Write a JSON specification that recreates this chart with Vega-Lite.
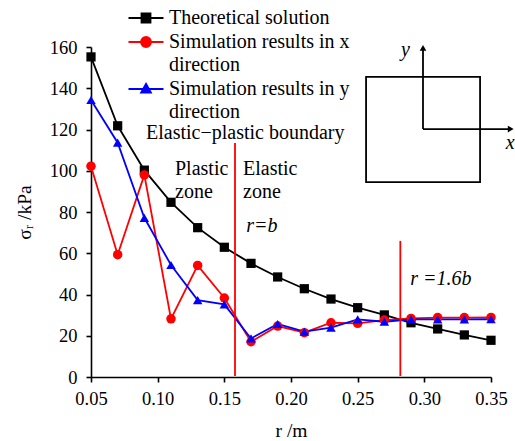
{
  "$schema": "https://vega.github.io/schema/vega-lite/v6.json",
  "width": 400,
  "height": 330,
  "autosize": {"type": "none"},
  "padding": {"left": 91, "top": 47, "right": 24, "bottom": 64},
  "background": "white",
  "config": {
    "view": {"stroke": null},
    "font": "Liberation Serif",
    "axis": {
      "grid": false,
      "domainColor": "black",
      "domainWidth": 1.6,
      "tickColor": "black",
      "tickWidth": 1.6,
      "labelFont": "Liberation Serif",
      "labelFontSize": 18.5,
      "labelColor": "black",
      "labelFlush": false,
      "titleFont": "Liberation Serif",
      "titleFontSize": 19.5,
      "titleFontWeight": "normal",
      "titleColor": "black"
    }
  },
  "datasets": {
    "series": [
      {"r": 0.05, "s": 155.2, "series": "Theoretical solution"},
      {"r": 0.07, "s": 121.8, "series": "Theoretical solution"},
      {"r": 0.09, "s": 100.3, "series": "Theoretical solution"},
      {"r": 0.11, "s": 84.7, "series": "Theoretical solution"},
      {"r": 0.13, "s": 72.4, "series": "Theoretical solution"},
      {"r": 0.15, "s": 62.9, "series": "Theoretical solution"},
      {"r": 0.17, "s": 55.1, "series": "Theoretical solution"},
      {"r": 0.19, "s": 48.5, "series": "Theoretical solution"},
      {"r": 0.21, "s": 42.8, "series": "Theoretical solution"},
      {"r": 0.23, "s": 37.8, "series": "Theoretical solution"},
      {"r": 0.25, "s": 33.6, "series": "Theoretical solution"},
      {"r": 0.27, "s": 30.1, "series": "Theoretical solution"},
      {"r": 0.29, "s": 26.3, "series": "Theoretical solution"},
      {"r": 0.31, "s": 23.3, "series": "Theoretical solution"},
      {"r": 0.33, "s": 20.4, "series": "Theoretical solution"},
      {"r": 0.35, "s": 17.8, "series": "Theoretical solution"},
      {"r": 0.05, "s": 102.2, "series": "Simulation results in x|direction"},
      {"r": 0.07, "s": 59.3, "series": "Simulation results in x|direction"},
      {"r": 0.09, "s": 98.0, "series": "Simulation results in x|direction"},
      {"r": 0.11, "s": 28.2, "series": "Simulation results in x|direction"},
      {"r": 0.13, "s": 54.1, "series": "Simulation results in x|direction"},
      {"r": 0.15, "s": 38.3, "series": "Simulation results in x|direction"},
      {"r": 0.17, "s": 17.1, "series": "Simulation results in x|direction"},
      {"r": 0.19, "s": 24.7, "series": "Simulation results in x|direction"},
      {"r": 0.21, "s": 21.5, "series": "Simulation results in x|direction"},
      {"r": 0.23, "s": 26.3, "series": "Simulation results in x|direction"},
      {"r": 0.25, "s": 26.0, "series": "Simulation results in x|direction"},
      {"r": 0.27, "s": 27.6, "series": "Simulation results in x|direction"},
      {"r": 0.29, "s": 28.4, "series": "Simulation results in x|direction"},
      {"r": 0.31, "s": 28.8, "series": "Simulation results in x|direction"},
      {"r": 0.33, "s": 28.8, "series": "Simulation results in x|direction"},
      {"r": 0.35, "s": 28.9, "series": "Simulation results in x|direction"},
      {"r": 0.05, "s": 134.3, "series": "Simulation results in y|direction"},
      {"r": 0.07, "s": 113.6, "series": "Simulation results in y|direction"},
      {"r": 0.09, "s": 77.2, "series": "Simulation results in y|direction"},
      {"r": 0.11, "s": 54.3, "series": "Simulation results in y|direction"},
      {"r": 0.13, "s": 37.3, "series": "Simulation results in y|direction"},
      {"r": 0.15, "s": 35.2, "series": "Simulation results in y|direction"},
      {"r": 0.17, "s": 18.7, "series": "Simulation results in y|direction"},
      {"r": 0.19, "s": 25.7, "series": "Simulation results in y|direction"},
      {"r": 0.21, "s": 22.0, "series": "Simulation results in y|direction"},
      {"r": 0.23, "s": 23.9, "series": "Simulation results in y|direction"},
      {"r": 0.25, "s": 27.9, "series": "Simulation results in y|direction"},
      {"r": 0.27, "s": 26.8, "series": "Simulation results in y|direction"},
      {"r": 0.29, "s": 27.9, "series": "Simulation results in y|direction"},
      {"r": 0.31, "s": 27.9, "series": "Simulation results in y|direction"},
      {"r": 0.33, "s": 27.9, "series": "Simulation results in y|direction"},
      {"r": 0.35, "s": 28.0, "series": "Simulation results in y|direction"}
    ],
    "boundaries": [
      {"r": 0.158, "s": 0.5, "s2": 113.5},
      {"r": 0.282, "s": 0.5, "s2": 66}
    ],
    "notes": [
      {"r": 0.0913, "s": 118.3, "label": "Elastic−plastic boundary"},
      {"r": 0.113, "s": 100.8, "label": "Plastic"},
      {"r": 0.113, "s": 89.7, "label": "zone"},
      {"r": 0.164, "s": 100.8, "label": "Elastic"},
      {"r": 0.164, "s": 89.7, "label": "zone"}
    ],
    "italicNotes": [
      {"r": 0.1665, "s": 73.2, "label": "r=b"},
      {"r": 0.2895, "s": 47.5, "label": "r =1.6b"},
      {"r": 0.2825, "s": 158.5, "label": "y"},
      {"r": 0.361, "s": 113.5, "label": "x"}
    ],
    "box": [
      {"r": 0.2563, "r2": 0.3418, "s": 94.5, "s2": 145.5}
    ],
    "arrows": [
      {"r": 0.299, "s": 120.2, "r2": 0.299, "s2": 159.5},
      {"r": 0.299, "s": 120.2, "r2": 0.364, "s2": 120.2}
    ],
    "upHead": [
      {"r": 0.299, "s": 159.6}
    ],
    "rightHead": [
      {"r": 0.3648, "s": 120.2}
    ]
  },
  "layer": [
    {
      "data": {"name": "series"},
      "mark": {"type": "line", "strokeWidth": 1.8},
      "encoding": {
        "x": {
          "field": "r", "type": "quantitative",
          "scale": {"domain": [0.05, 0.35], "nice": false, "zero": false, "padding": 0},
          "axis": {
            "values": [0.05, 0.1, 0.15, 0.2, 0.25, 0.3, 0.35],
            "format": ".2f",
            "tickSize": 5,
            "labelPadding": 7,
            "title": "r /m",
            "titlePadding": 14,
            "encode": {"ticks": {"update": {"y2": {"value": -5}}}}
          }
        },
        "y": {
          "field": "s", "type": "quantitative",
          "scale": {"domain": [0, 160], "nice": false, "padding": 0},
          "axis": {
            "values": [0, 20, 40, 60, 80, 100, 120, 140, 160],
            "tickSize": 5,
            "labelPadding": 9,
            "title": "σᵣ /kPa",
            "titlePadding": 15
          }
        },
        "color": {
          "field": "series", "type": "nominal",
          "scale": {
            "domain": ["Theoretical solution", "Simulation results in x|direction", "Simulation results in y|direction"],
            "range": ["black", "red", "blue"]
          },
          "legend": {
            "orient": "none",
            "legendX": 45,
            "legendY": -39,
            "title": null,
            "padding": 0,
            "labelFont": "Liberation Serif",
            "labelFontSize": 20,
            "labelColor": "black",
            "labelLimit": 400,
            "labelOffset": 13,
            "labelExpr": "split(datum.label, '|')",
            "rowPadding": 4,
            "symbolSize": 100,
            "symbolStrokeWidth": 1.8,
            "encode": {
              "labels": {"update": {"lineHeight": {"value": 23}}},
              "symbols": {
                "update": {
                  "shape": {"signal": "datum.value === 'Theoretical solution' ? 'M-3.5,0H3.5M-0.9,-0.9H0.9V0.9H-0.9Z' : datum.value === 'Simulation results in x|direction' ? 'M-3.5,0H3.5M-1,0A1,1 0 1,0 1,0A1,1 0 1,0 -1,0Z' : 'M-3.5,0H3.5M0,-1.05L0.98,0.7L-0.98,0.7Z'"},
                  "fill": {"signal": "scale('color', datum.value)"},
                  "stroke": {"signal": "scale('color', datum.value)"},
                  "strokeWidth": {"value": 1.8},
                  "opacity": {"value": 1},
                  "fillOpacity": {"value": 1},
                  "strokeOpacity": {"value": 1}
                }
              }
            }
          }
        }
      }
    },
    {
      "data": {"name": "series"},
      "transform": [{"filter": "datum.series === 'Theoretical solution'"}],
      "mark": {"type": "point", "filled": true, "opacity": 1, "size": 85, "shape": "square", "color": "black"},
      "encoding": {
        "x": {"field": "r", "type": "quantitative"},
        "y": {"field": "s", "type": "quantitative"}
      }
    },
    {
      "data": {"name": "series"},
      "transform": [{"filter": "datum.series === 'Simulation results in x|direction'"}],
      "mark": {"type": "point", "filled": true, "opacity": 1, "size": 90, "shape": "circle", "color": "red"},
      "encoding": {
        "x": {"field": "r", "type": "quantitative"},
        "y": {"field": "s", "type": "quantitative"}
      }
    },
    {
      "data": {"name": "series"},
      "transform": [{"filter": "datum.series === 'Simulation results in y|direction'"}],
      "mark": {"type": "point", "filled": true, "opacity": 1, "size": 90, "shape": "triangle-up", "color": "blue"},
      "encoding": {
        "x": {"field": "r", "type": "quantitative"},
        "y": {"field": "s", "type": "quantitative"}
      }
    },
    {
      "data": {"name": "boundaries"},
      "mark": {"type": "rule", "color": "red", "strokeWidth": 1.8},
      "encoding": {
        "x": {"field": "r", "type": "quantitative"},
        "y": {"field": "s", "type": "quantitative"},
        "y2": {"field": "s2"}
      }
    },
    {
      "data": {"name": "notes"},
      "mark": {"type": "text", "align": "left", "baseline": "middle", "fontSize": 20, "font": "Liberation Serif", "color": "black"},
      "encoding": {
        "x": {"field": "r", "type": "quantitative"},
        "y": {"field": "s", "type": "quantitative"},
        "text": {"field": "label"}
      }
    },
    {
      "data": {"name": "italicNotes"},
      "mark": {"type": "text", "align": "left", "baseline": "middle", "fontSize": 20, "fontStyle": "italic", "font": "Liberation Serif", "color": "black"},
      "encoding": {
        "x": {"field": "r", "type": "quantitative"},
        "y": {"field": "s", "type": "quantitative"},
        "text": {"field": "label"}
      }
    },
    {
      "data": {"name": "box"},
      "mark": {"type": "rect", "fill": null, "fillOpacity": 0, "stroke": "black", "strokeWidth": 1.8},
      "encoding": {
        "x": {"field": "r", "type": "quantitative"},
        "x2": {"field": "r2"},
        "y": {"field": "s", "type": "quantitative"},
        "y2": {"field": "s2"}
      }
    },
    {
      "data": {"name": "arrows"},
      "mark": {"type": "rule", "color": "black", "strokeWidth": 1.8},
      "encoding": {
        "x": {"field": "r", "type": "quantitative"},
        "y": {"field": "s", "type": "quantitative"},
        "x2": {"field": "r2"},
        "y2": {"field": "s2"}
      }
    },
    {
      "data": {"name": "upHead"},
      "mark": {"type": "point", "filled": true, "opacity": 1, "size": 45, "color": "black", "shape": "triangle-up"},
      "encoding": {
        "x": {"field": "r", "type": "quantitative"},
        "y": {"field": "s", "type": "quantitative"}
      }
    },
    {
      "data": {"name": "rightHead"},
      "mark": {"type": "point", "filled": true, "opacity": 1, "size": 45, "color": "black", "shape": "triangle-right"},
      "encoding": {
        "x": {"field": "r", "type": "quantitative"},
        "y": {"field": "s", "type": "quantitative"}
      }
    }
  ]
}
